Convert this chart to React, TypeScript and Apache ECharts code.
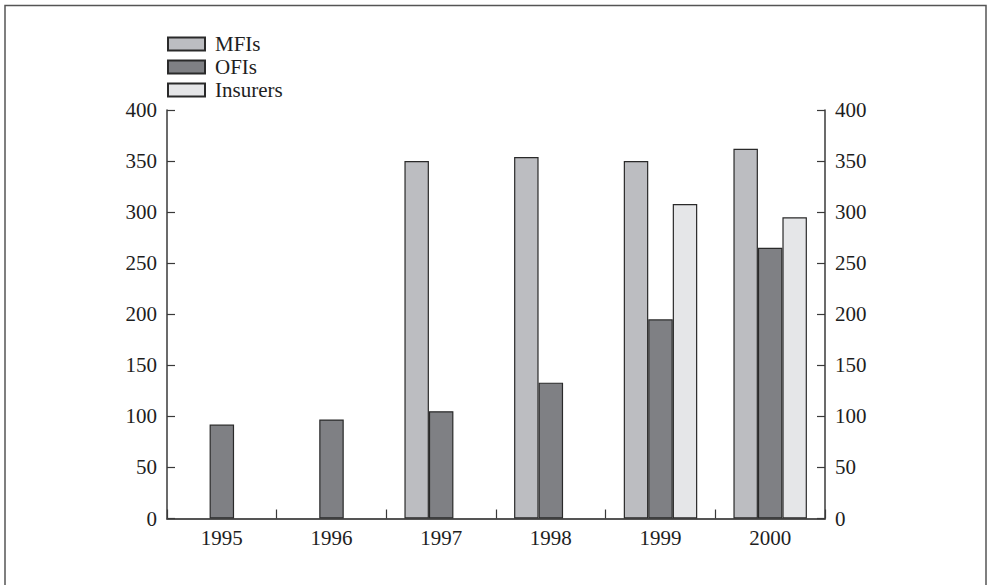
import React, { useEffect, useRef } from "react";
import * as echarts from "echarts";

const categories = ["1995", "1996", "1997", "1998", "1999", "2000"];
const seriesNames = ["MFIs", "OFIs", "Insurers"];
const mfis = [null, null, 350, 354, 350, 362];
const ofis = [92, 97, 105, 133, 195, 265];
const insurers = [null, null, null, null, 308, 295];
const yTicks = { min: 0, max: 400, interval: 50 };

const FONT = "'Liberation Serif', 'DejaVu Serif', serif";
const TEXT = "#1e1e1e";
const AXIS = "#3a3a3a";

export default function App() {
  const ref = useRef<HTMLDivElement>(null);
  useEffect(() => {
    if (!ref.current) return;
    const chart = echarts.init(ref.current, null, { renderer: "svg" });
    const yAxisBase = {
      type: "value" as const,
      min: yTicks.min,
      max: yTicks.max,
      interval: yTicks.interval,
      splitLine: { show: false },
      axisLine: { show: true, lineStyle: { color: AXIS, width: 1.5 } },
      axisTick: { show: true, inside: true, length: 8, lineStyle: { color: AXIS, width: 1.2 } },
      axisLabel: { color: TEXT, fontFamily: FONT, fontSize: 21, margin: 10 },
    };
    const barStyle = (color: string) => ({
      color,
      borderColor: "#2a2a2a",
      borderWidth: 1.2,
    });
    chart.setOption({
      animation: false,
      backgroundColor: "#ffffff",
      textStyle: { fontFamily: FONT },
      grid: { left: 167, right: 162, top: 110, bottom: 66.5, containLabel: false },
      legend: {
        orient: "vertical",
        left: 162,
        top: 28.5,
        icon: "rect",
        itemWidth: 37,
        itemHeight: 13,
        itemGap: 2,
        data: seriesNames,
        textStyle: { color: TEXT, fontFamily: FONT, fontSize: 21, lineHeight: 21, padding: [0, 0, 0, 5] },
        selectedMode: false,
      },
      xAxis: {
        type: "category",
        data: categories,
        boundaryGap: true,
        axisLine: { show: true, onZero: false, lineStyle: { color: "#555", width: 2 } },
        axisTick: { show: true, inside: true, length: 9, alignWithLabel: false, lineStyle: { color: AXIS, width: 1.2 } },
        axisLabel: { color: TEXT, fontFamily: FONT, fontSize: 21, margin: 9 },
      },
      yAxis: [
        { ...yAxisBase, position: "left" },
        { ...yAxisBase, position: "right" },
      ],
      series: [
        { name: seriesNames[0], type: "bar", data: mfis, barGap: "0%", barCategoryGap: "33%", itemStyle: barStyle("#bcbdc1") },
        { name: seriesNames[1], type: "bar", data: ofis, barGap: "0%", barCategoryGap: "33%", itemStyle: barStyle("#7f8084") },
        { name: seriesNames[2], type: "bar", data: insurers, barGap: "0%", barCategoryGap: "33%", itemStyle: barStyle("#e5e6e8") },
      ],
      graphic: [
        {
          type: "rect",
          silent: true,
          shape: { x: 5, y: 5.5, width: 981, height: 620 },
          style: { fill: "none", stroke: "#555", lineWidth: 1.5 },
        },
      ],
    });
    return () => chart.dispose();
  }, []);
  return (
    <div
      ref={ref}
      style={{ position: "fixed", left: 0, top: 0, width: 987, height: 585 }}
    />
  );
}
